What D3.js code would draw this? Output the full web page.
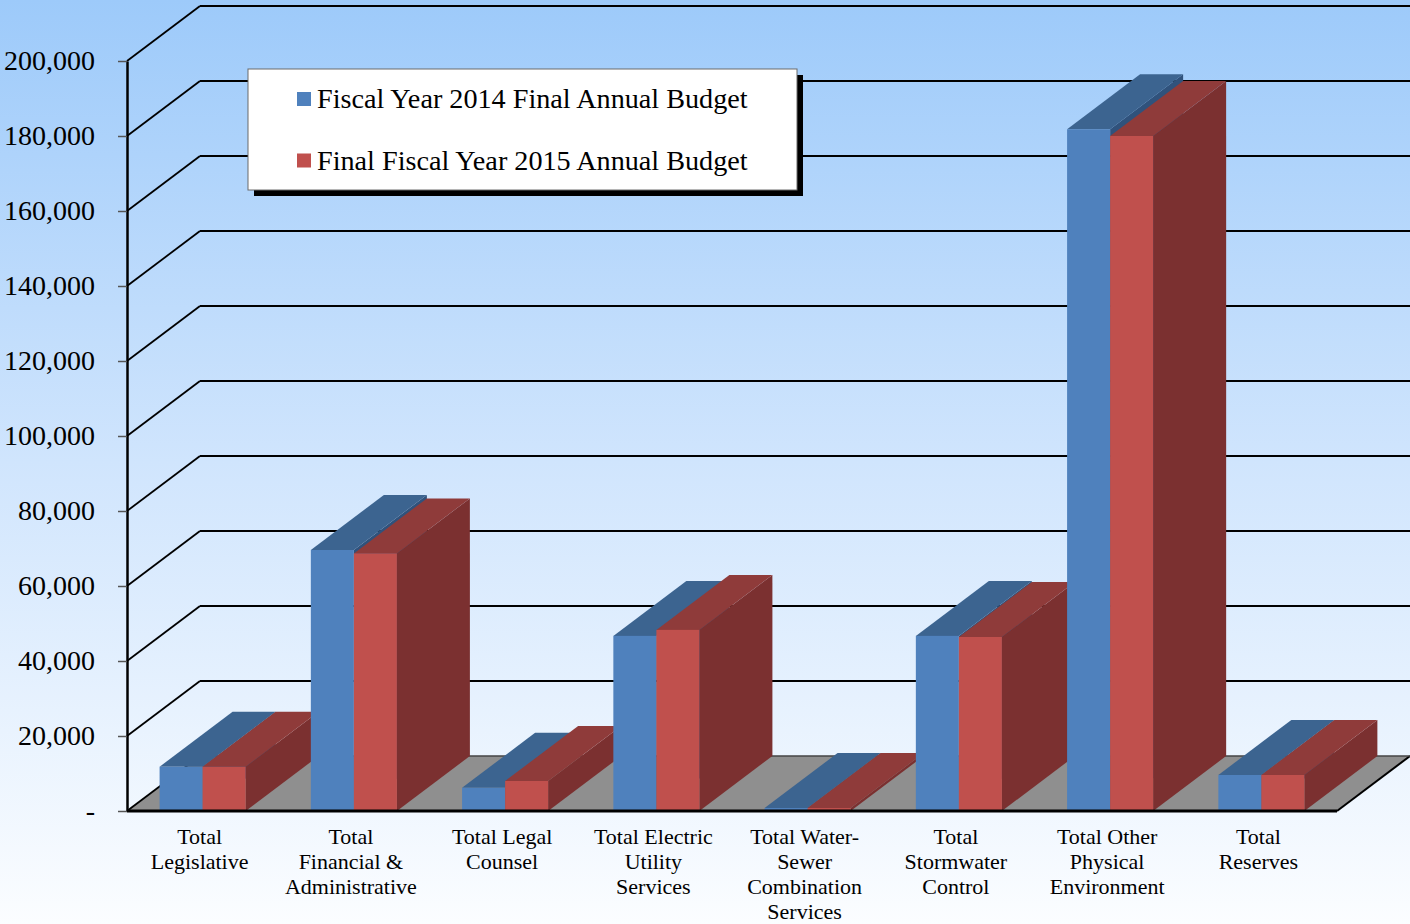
<!DOCTYPE html>
<html>
<head>
<meta charset="utf-8">
<script src="https://cdn.jsdelivr.net/npm/d3@7"></script>
<style>
    html, body { margin: 0; padding: 0; background: #fff; }
    svg { display: block; }
    text { font-family: "Liberation Serif", "Times New Roman", serif; fill: #000; }
</style>
</head>
<body>
<div id="chart"></div>
<script>
// Data
const categories = [
    "Total\nLegislative",
    "Total\nFinancial &\nAdministrative",
    "Total Legal\nCounsel",
    "Total Electric\nUtility\nServices",
    "Total Water-\nSewer\nCombination\nServices",
    "Total\nStormwater\nControl",
    "Total Other\nPhysical\nEnvironment",
    "Total\nReserves"
];
const seriesNames = ["Fiscal Year 2014 Final Annual Budget", "Final Fiscal Year 2015 Annual Budget"];
const fy2014 = [11800, 69600, 6200, 46700, 800, 46700, 181800, 9600];
const fy2015 = [11800, 68700, 8000, 48300, 800, 46400, 180000, 9600];
const yTicks = [0, 20000, 40000, 60000, 80000, 100000, 120000, 140000, 160000, 180000, 200000];

const W = 1410, H = 924;
// oblique depth offset of the 3d box
const DX = 73, DY = -55;

const svg = d3.select("#chart")
    .append("svg")
    .attr("width", W)
    .attr("height", H);

// background gradient
const defs = svg.append("defs");
const grad = defs.append("linearGradient")
    .attr("id", "bg")
    .attr("x1", 0).attr("y1", 0).attr("x2", 0).attr("y2", 1);
grad.append("stop").attr("offset", "0%").attr("stop-color", "#9dcafa");
grad.append("stop").attr("offset", "50%").attr("stop-color", "#d0e5fd");
grad.append("stop").attr("offset", "100%").attr("stop-color", "#fbfdff");

svg.append("rect")
    .attr("width", W).attr("height", H)
    .attr("fill", "url(#bg)");

// Scales
const y = d3.scaleLinear()
    .domain([0, 200000])
    .range([811, 61]);

const x0 = d3.scaleBand()
    .domain(categories)
    .range([127, 1337])
    .paddingInner(0.431)
    .paddingOuter(0.2155);

const x1 = d3.scaleBand()
    .domain(seriesNames)
    .range([0, x0.bandwidth()]);

const left = x0.range()[0], right = x0.range()[1];

// Floor
const floor = svg.append("g").attr("class", "floor");
floor.append("polygon")
    .attr("points", [
        [left, y(0)], [right, y(0)], [right + DX, y(0) + DY], [left + DX, y(0) + DY]
    ].map(p => p.join(",")).join(" "))
    .attr("fill", "#8f8f8f");

// Gridlines on back wall and left wall
const grid = svg.append("g").attr("class", "grid");
grid.selectAll(".back-line")
    .data(yTicks)
    .enter()
    .append("line")
    .attr("class", "back-line")
    .attr("x1", left + DX)
    .attr("x2", W)
    .attr("y1", d => y(d) + DY)
    .attr("y2", d => y(d) + DY)
    .attr("stroke", d => d === 0 ? "#444" : "#000")
    .attr("stroke-width", d => d === 0 ? 1.5 : 2);

grid.selectAll(".side-line")
    .data(yTicks)
    .enter()
    .append("line")
    .attr("class", "side-line")
    .attr("x1", left)
    .attr("y1", d => y(d))
    .attr("x2", left + DX)
    .attr("y2", d => y(d) + DY)
    .attr("stroke", "#000")
    .attr("stroke-width", 1.8);

// Right edge of the floor
floor.append("line")
    .attr("x1", right).attr("y1", y(0))
    .attr("x2", right + DX).attr("y2", y(0) + DY)
    .attr("stroke", "#000")
    .attr("stroke-width", 2);

// Bars
const colors = {
    [seriesNames[0]]: { front: "#4f81bd", top: "#3c6490", side: "#30527c" },
    [seriesNames[1]]: { front: "#c0504d", top: "#8f3b3a", side: "#7b3030" }
};

const bars = [];
categories.forEach((c, i) => {
    bars.push({ cat: c, name: seriesNames[0], value: fy2014[i] });
    bars.push({ cat: c, name: seriesNames[1], value: fy2015[i] });
});

const pts = arr => arr.map(p => p.join(",")).join(" ");

const barG = svg.selectAll(".bar")
    .data(bars)
    .enter()
    .append("g")
    .attr("class", "bar");

// side face
barG.append("polygon")
    .attr("points", d => {
        const xr = x0(d.cat) + x1(d.name) + x1.bandwidth();
        const yt = y(d.value), yb = y(0);
        return pts([[xr, yt], [xr + DX, yt + DY], [xr + DX, yb + DY], [xr, yb]]);
    })
    .attr("fill", d => colors[d.name].side);

// top face
barG.append("polygon")
    .attr("points", d => {
        const xl = x0(d.cat) + x1(d.name);
        const xr = xl + x1.bandwidth();
        const yt = y(d.value);
        return pts([[xl, yt], [xr, yt], [xr + DX, yt + DY], [xl + DX, yt + DY]]);
    })
    .attr("fill", d => colors[d.name].top);

// front face
barG.append("rect")
    .attr("x", d => x0(d.cat) + x1(d.name))
    .attr("y", d => y(d.value))
    .attr("width", x1.bandwidth())
    .attr("height", d => y(0) - y(d.value))
    .attr("fill", d => colors[d.name].front);

// Front floor edge
svg.append("line")
    .attr("x1", left).attr("x2", right)
    .attr("y1", y(0)).attr("y2", y(0))
    .attr("stroke", "#000")
    .attr("stroke-width", 3);

// Y axis
const yAxis = svg.append("g")
    .attr("transform", `translate(${left},0)`)
    .call(d3.axisLeft(y)
        .tickValues(yTicks)
        .tickSize(9)
        .tickSizeOuter(0)
        .tickPadding(23)
        .tickFormat(d => d === 0 ? "-" : d3.format(",")(d)));

yAxis.select(".domain")
    .attr("stroke", "#000")
    .attr("stroke-width", 2.5);
yAxis.selectAll(".tick line")
    .attr("stroke", "#555")
    .attr("stroke-width", 1.5);
yAxis.selectAll(".tick text")
    .attr("font-family", "Liberation Serif, Times New Roman, serif")
    .style("font-size", "28px")
    .attr("fill", "#000");

// Category labels
const catLabels = svg.selectAll(".cat-label")
    .data(categories)
    .enter()
    .append("text")
    .attr("class", "cat-label")
    .attr("text-anchor", "middle")
    .style("font-size", "22px");

catLabels.selectAll("tspan")
    .data(d => d.split("\n").map(line => ({ line, cat: d })))
    .enter()
    .append("tspan")
    .attr("x", d => x0(d.cat) + x0.bandwidth() / 2 - 3)
    .attr("y", (d, i) => 844 + i * 25)
    .text(d => d.line);

// Legend
const legend = svg.append("g").attr("class", "legend");
legend.append("rect")
    .attr("x", 254).attr("y", 75)
    .attr("width", 549).attr("height", 121)
    .attr("fill", "#000");
legend.append("rect")
    .attr("x", 248).attr("y", 69)
    .attr("width", 549).attr("height", 121)
    .attr("fill", "#fff")
    .attr("stroke", "#6a6a6a")
    .attr("stroke-width", 1);

const legendItem = legend.selectAll(".legend-item")
    .data(seriesNames)
    .enter()
    .append("g")
    .attr("class", "legend-item")
    .attr("transform", (d, i) => `translate(297,${92 + i * 61.5})`);

legendItem.append("rect")
    .attr("width", 14)
    .attr("height", 14)
    .attr("fill", d => colors[d].front);

legendItem.append("text")
    .attr("x", 20)
    .attr("y", 16)
    .style("font-size", "28.2px")
    .text(d => d);
</script>
</body>
</html>
